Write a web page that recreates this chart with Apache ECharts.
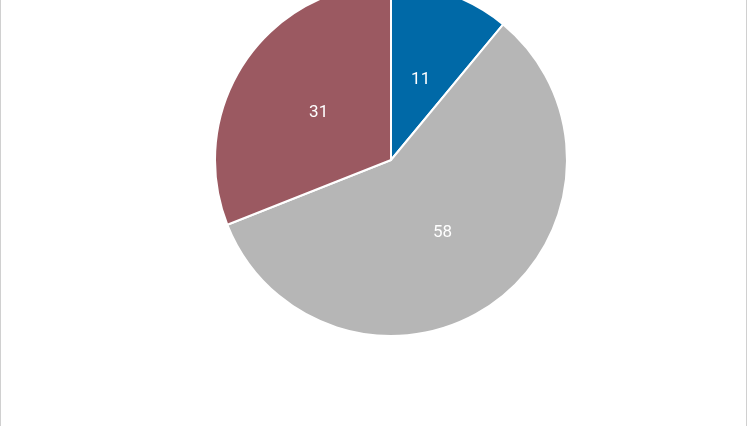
<!DOCTYPE html>
<html><head><meta charset="utf-8">
<script src="https://cdn.jsdelivr.net/npm/echarts@6/dist/echarts.min.js"></script>
<style>
html,body{margin:0;padding:0;background:#fff;}
#c{position:absolute;left:0;top:0;width:745px;height:426px;border-left:1px solid #d0d0d0;border-right:1px solid #d0d0d0;}
</style></head>
<body><div id="c"></div>
<script>
const categories = ['A', 'B', 'C'];
const values = [11, 58, 31];
const colors = ['#0069a7', '#b6b6b6', '#9b5961'];
const chart = echarts.init(document.getElementById('c'));
const sliceData = categories.map((n, i) => ({name: n, value: values[i], itemStyle: {color: colors[i]}}));
const labelData = categories.map((n, i) => ({name: n, value: values[i]}));
chart.setOption({
  animation: false,
  series: [{
    type: 'pie',
    center: [390, 160],
    radius: [0, 176],
    startAngle: 90,
    clockwise: true,
    data: sliceData,
    itemStyle: {borderColor: '#fff', borderWidth: 2},
    label: {show: false},
    labelLine: {show: false},
    emphasis: {disabled: true}
  }, {
    type: 'pie',
    center: [390, 160],
    radius: [0, 169],
    startAngle: 90,
    clockwise: true,
    silent: true,
    data: labelData,
    itemStyle: {color: 'rgba(0,0,0,0)', borderWidth: 0},
    label: {position: 'inside', formatter: '{c}', color: '#fff', fontSize: 17, fontFamily: 'Roboto', offset: [0, 2.4]},
    labelLine: {show: false},
    emphasis: {disabled: true},
    z: 3
  }]
});
</script></body></html>
